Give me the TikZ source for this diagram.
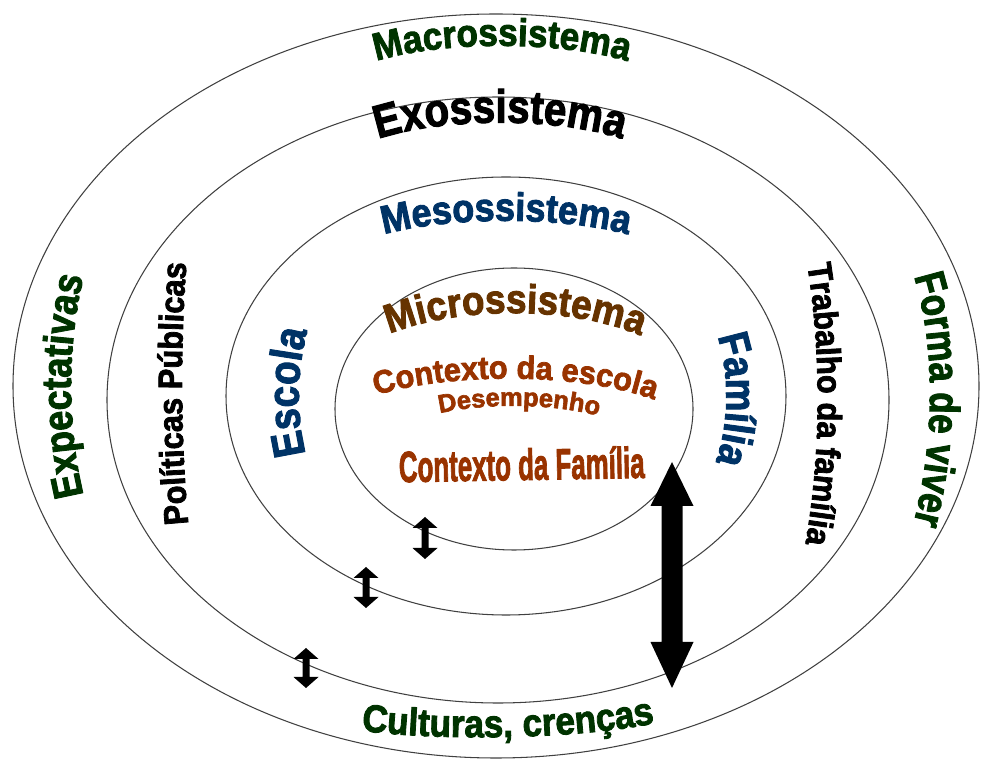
\documentclass[tikz,border=0pt]{standalone}
\usepackage{fontspec}
\setmainfont{Liberation Sans}
\newfontfamily\waface[FakeBold=2.4]{Liberation Sans}
\usepackage{xcolor}
\usepackage{tikz}
\usetikzlibrary{decorations.text}

\definecolor{macro}{RGB}{0,51,0}
\definecolor{meso}{RGB}{0,51,102}
\definecolor{micro}{RGB}{102,51,0}
\definecolor{contexto}{RGB}{153,51,0}

\newcommand\waFont[1]{\waface\fontsize{#1}{#1}\selectfont\bfseries}

\tikzset{
  ring/.style={draw=black!75, line width=0.6pt},
  wordart/.style n args={3}{decorate, decoration={text along path, text align=center,
      text color=#1, text={|\waFont{#2}|#3}}},
  tall/.style={decoration={transform={yscale=#1}}},
  twoway/.style={fill=black},
}

\begin{document}
\begin{tikzpicture}[x=0.02cm, y=0.02cm]
            \useasboundingbox (0,0) rectangle (981,761);
            % the four systems
            \draw[ring] (496,375) ellipse [x radius=483, y radius=372];
            \draw[ring] (498,361) ellipse [x radius=391, y radius=303];
            \draw[ring] (506,365) ellipse [x radius=280, y radius=219];
            \draw[ring] (514,352) ellipse [x radius=179, y radius=141];

            % titles
            \path[wordart={macro}{20}{Macrossistema}, tall=1.1] (362,695) .. controls (430,722) and (570,722) .. (642,695);
            \path[wordart={black}{23}{Exossistema}, tall=1.15] (362,616) .. controls (430,646) and (570,646) .. (638,616);
            \path[wordart={meso}{20.5}{Mesossistema}, tall=1.1] (372,523) .. controls (440,546) and (570,546) .. (640,523);
            \path[wordart={micro}{21}{Microssistema}, tall=1.1] (378,422) .. controls (450,457) and (580,457) .. (652,420);
            \path[wordart={contexto}{17.5}{Contexto da escola}, tall=1.05] (365,362) .. controls (440,390) and (590,390) .. (665,357);
            \path[wordart={contexto}{14.5}{Desempenho}] (428,345) .. controls (480,359) and (555,359) .. (610,342);
            \node[text=contexto, anchor=base, rotate=1] (ctxfamilia) at (522,281) {\scalebox{0.64}[1.08]{\waFont{23}Contexto da Família}};

            % side words
            \path[wordart={meso}{22}{Escola}, tall=1.15] (309,295) .. controls (295,340) and (295,395) .. (311,442);
            \path[wordart={meso}{21}{Família}, tall=1.15] (716,428) .. controls (730,395) and (730,330) .. (714,296);
            \path[wordart={black}{17.5}{Políticas Públicas}, tall=1.1] (189,230) .. controls (180,320) and (180,420) .. (187,505);
            \path[wordart={black}{17.5}{Trabalho da família}, tall=1.1] (806,505) .. controls (822,410) and (822,305) .. (804,209);
            \path[wordart={macro}{20.5}{Expectativas}, tall=1.15] (86,256) .. controls (66,330) and (66,420) .. (86,494);
            \path[wordart={macro}{20}{Forma de viver}, tall=1.2] (912,491) .. controls (936,420) and (936,320) .. (912,231);
            \path[wordart={macro}{20}{Culturas, crenças}, tall=1.1] (352,32) .. controls (420,20) and (580,20) .. (664,40);

            % two-way arrows
            \foreach \ax/\ya/\yb in {425/244/202, 366/194/153, 306/113/73}
              \fill[twoway] (\ax,\ya) -- (\ax+12.5,\ya-11) -- (\ax+3.5,\ya-11) -- (\ax+3.5,\yb+11)
                -- (\ax+12.5,\yb+11) -- (\ax,\yb) -- (\ax-12.5,\yb+11) -- (\ax-3.5,\yb+11)
                -- (\ax-3.5,\ya-11) -- (\ax-12.5,\ya-11) -- cycle;
            \fill[twoway] (672,299) -- (693.5,255) -- (682.5,255) -- (682.5,119) -- (693.5,119) -- (672,73)
              -- (650.5,119) -- (661.5,119) -- (661.5,255) -- (650.5,255) -- cycle;
        \end{tikzpicture}
\end{document}
